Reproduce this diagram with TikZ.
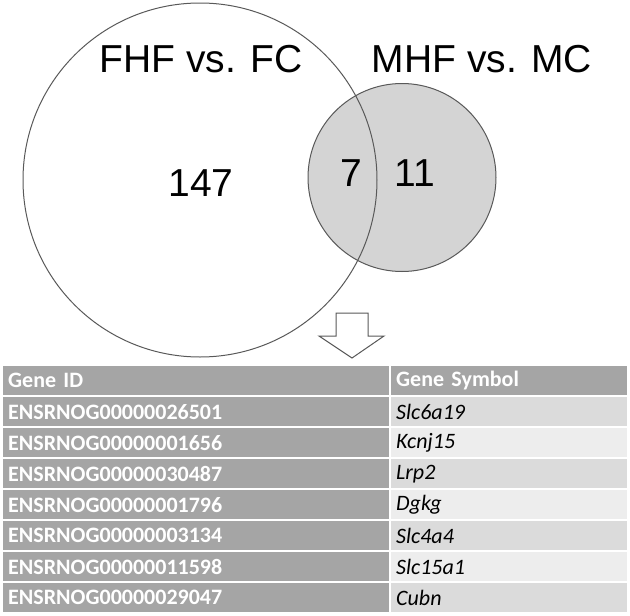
\documentclass[tikz,border=0pt]{standalone}
\usepackage{fontspec}
\setmainfont{Liberation Sans}
\newfontfamily\tablefont{Carlito}
\usetikzlibrary{positioning, calc}

\definecolor{venngray}{HTML}{D4D4D4}
\definecolor{edgegray}{HTML}{595959}
\definecolor{cellgray}{HTML}{A5A5A5}
\definecolor{rowdark}{HTML}{DBDBDB}
\definecolor{rowlight}{HTML}{EDEDED}

\begin{document}
\begin{tikzpicture}[x=1pt, y=-1pt,
    venn/.style={circle, draw=edgegray, line width=1pt, inner sep=0pt},
    biglabel/.style={font=\fontsize{39}{39}\selectfont, inner sep=0pt},
    idcell/.style={anchor=north west, fill=cellgray, text=white, minimum height=29pt, text width=376pt, inner xsep=5pt, inner ysep=0pt, align=left, font=\tablefont\fontsize{22}{22}\selectfont\bfseries},
    symcell/.style={anchor=north west, minimum height=29pt, text width=226pt, inner xsep=5pt, inner ysep=0pt, align=left, font=\tablefont\fontsize{22}{22}\selectfont\itshape},
    headcell/.style={fill=cellgray, text=white, font=\tablefont\fontsize{22}{22}\selectfont\bfseries},
    bigarrow/.style={draw=edgegray, fill=white, line width=1pt, line join=miter}
]
\useasboundingbox (0,0) rectangle (630,616);

% Venn
\node[venn, fill=venngray, minimum size=188pt] (mhf) at (402,177.5) {};
\node[venn, minimum size=354pt] (fhf) at (200,180) {};
\node[biglabel] (fhflabel) at (201,59) {FHF vs. FC};
\node[biglabel] (mhflabel) at (482,59) {MHF vs. MC};
\node[biglabel] (onlyf) at (201,183) {147};
\node[biglabel] (both) at (351,173.5) {7};
\node[biglabel] (onlym) at (415,173.5) {11};

% Arrow
\coordinate (arrtop) at (352,313);
\draw[bigarrow] ($(arrtop)+(-16,0)$) -- ($(arrtop)+(16,0)$) -- ($(arrtop)+(16,23)$)
  -- ($(arrtop)+(32,23)$) -- ($(arrtop)+(0,45)$) -- ($(arrtop)+(-33,23)$)
  -- ($(arrtop)+(-16,23)$) -- cycle;

% Table
\node[idcell] (idhead) at (3,366) {Gene ID};
\node[symcell, headcell] (symhead) at (391,366) {Gene Symbol};
\foreach \gid/\sym/\shade [count=\r] in {
    ENSRNOG00000026501/Slc6a19/rowdark,
    ENSRNOG00000001656/Kcnj15/rowlight,
    ENSRNOG00000030487/Lrp2/rowdark,
    ENSRNOG00000001796/Dgkg/rowlight,
    ENSRNOG00000003134/Slc4a4/rowdark,
    ENSRNOG00000011598/Slc15a1/rowlight,
    ENSRNOG00000029047/Cubn/rowdark}{
  \node[idcell] (id\r) at (3,{366+31*\r}) {\gid};
  \node[symcell, fill=\shade] (sym\r) at (391,{366+31*\r}) {\sym};
}

\end{tikzpicture}
\end{document}
